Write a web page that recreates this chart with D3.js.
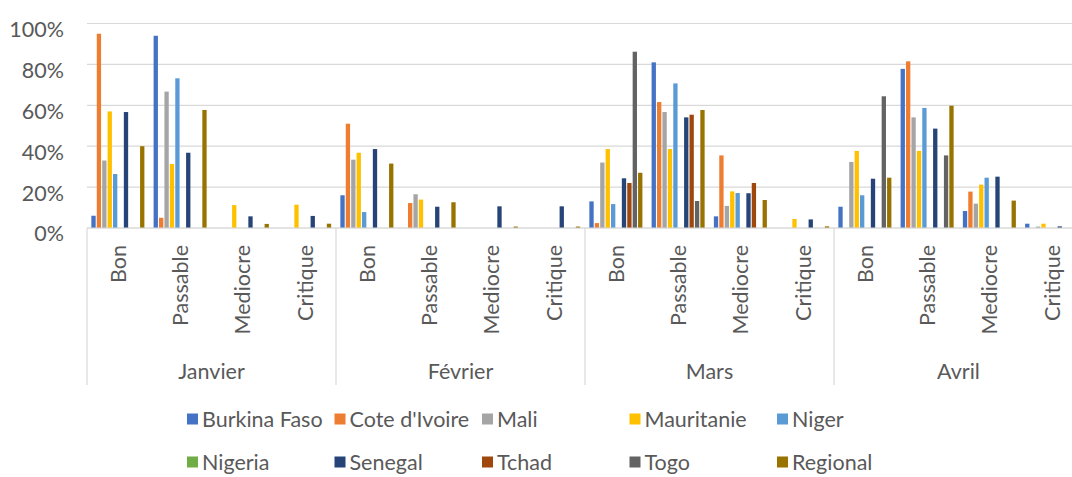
<!DOCTYPE html>
<html>
<head>
<meta charset="utf-8">
<script src="https://cdn.jsdelivr.net/npm/d3@7"></script>
<style>
  html, body { margin: 0; padding: 0; background: #fff; }
  svg { display: block; }
  text { font-family: Lato, "Open Sans", sans-serif; fill: #595959; }
</style>
</head>
<body>
<svg id="chart" width="1072" height="477"></svg>
<script>
const months = ["Janvier", "Février", "Mars", "Avril"];
const levels = ["Bon", "Passable", "Mediocre", "Critique"];
const seriesNames = ["Burkina Faso", "Cote d'Ivoire", "Mali", "Mauritanie", "Niger",
                     "Nigeria", "Senegal", "Tchad", "Togo", "Regional"];
const seriesColors = ["#4472C4", "#ED7D31", "#A5A5A5", "#FFC000", "#5B9BD5",
                      "#70AD47", "#264478", "#9E480E", "#636363", "#997300"];
const yTicks = [0, 20, 40, 60, 80, 100];

// values in %, order: Janvier(Bon,Passable,Mediocre,Critique), Février(...), Mars(...), Avril(...)
const burkinaFaso = [6, 94, 0, 0, 16, 0, 0, 0, 13, 81, 5.7, 0, 10.4, 77.8, 8.3, 2.1];
const coteDIvoire = [95, 5, 0, 0, 51, 12.2, 0, 0, 2.4, 61.6, 35.5, 0, 0, 81.5, 17.8, 0];
const mali        = [33, 66.7, 0, 0, 33.4, 16.5, 0, 0, 32, 56.7, 10.8, 0, 32.3, 54.1, 11.9, 0.7];
const mauritanie  = [57, 31.3, 11.2, 11.4, 36.8, 13.9, 0, 0, 38.6, 38.6, 17.9, 4.4, 37.7, 37.7, 21.2, 2.1];
const niger       = [26.4, 73.2, 0, 0, 7.8, 0, 0, 0, 11.7, 70.7, 17.1, 0, 16, 58.7, 24.6, 0];
const nigeria     = [0, 0, 0, 0, 0, 0, 0, 0, 0, 0, 0, 0, 0, 0, 0, 0];
const senegal     = [56.7, 36.8, 5.7, 5.9, 38.6, 10.4, 10.6, 10.6, 24.3, 54.1, 17, 4.2, 24.1, 48.6, 25.1, 0.8];
const tchad       = [0, 0, 0, 0, 0, 0, 0, 0, 22, 55.4, 22, 0, 0, 0, 0, 0];
const togo        = [0, 0, 0, 0, 0, 0, 0, 0, 86.2, 13.2, 0, 0, 64.4, 35.5, 0, 0];
const regional    = [40, 57.7, 2, 2.1, 31.5, 12.6, 0.7, 0.7, 27, 57.7, 13.7, 0.8, 24.6, 59.8, 13.4, 0];

const seriesValues = [burkinaFaso, coteDIvoire, mali, mauritanie, niger,
                      nigeria, senegal, tchad, togo, regional];

(function () {
const svg = d3.select("#chart");
const plotLeft = 87, plotRight = 1083, plotTop = 23.5, plotBottom = 228;
const fs = 21.5;

const categories = [];
months.forEach(m => levels.forEach(l => categories.push(m + "|" + l)));

const x0 = d3.scaleBand().domain(categories).range([plotLeft, plotRight]).paddingInner(0).paddingOuter(0);
const x1 = d3.scaleBand().domain(seriesNames).range([0, x0.bandwidth()]).paddingInner(0).paddingOuter(0.75);
const y = d3.scaleLinear().domain([0, 100]).range([plotBottom, plotTop]);
const xm = d3.scaleBand().domain(months).range([plotLeft, plotRight]);

// gridlines
svg.append("g").selectAll("line").data(yTicks).join("line")
  .attr("x1", plotLeft).attr("x2", plotRight)
  .attr("y1", d => y(d)).attr("y2", d => y(d))
  .attr("stroke", "#d9d9d9").attr("stroke-width", 1.2);

// y labels
const yAxis = d3.axisLeft(y).tickValues(yTicks).tickFormat(d => d + "%").tickSize(0).tickPadding(0);
const yg = svg.append("g").attr("transform", "translate(64,0)").call(yAxis);
yg.select(".domain").remove();
yg.selectAll("text").attr("font-size", fs).attr("dy", "0.6em")
  .style("font-family", "Lato, sans-serif").attr("fill", "#595959");

// bars
const bars = [];
seriesNames.forEach((s, si) => {
  seriesValues[si].forEach((v, ci) => bars.push({ s, si, cat: categories[ci], v }));
});
svg.append("g").selectAll("rect").data(bars.filter(d => d.v > 0)).join("rect")
  .attr("x", d => x0(d.cat) + x1(d.s) + 0.3)
  .attr("width", x1.bandwidth() - 1.1)
  .attr("y", d => y(d.v))
  .attr("height", d => y(0) - y(d.v))
  .attr("fill", d => seriesColors[d.si]);

// category axis line
svg.append("line").attr("x1", plotLeft).attr("x2", plotRight).attr("y1", plotBottom).attr("y2", plotBottom)
  .attr("stroke", "#d9d9d9").attr("stroke-width", 1.2);

// month separators
svg.append("g").selectAll("line").data(months).join("line")
  .attr("x1", d => xm(d)).attr("x2", d => xm(d))
  .attr("y1", plotBottom).attr("y2", 385)
  .attr("stroke", "#d9d9d9").attr("stroke-width", 1.2);

// level labels (rotated)
svg.append("g").selectAll("text").data(categories).join("text")
  .attr("transform", d => `translate(${x0(d) + x0.bandwidth() / 2},245) rotate(-90)`)
  .attr("text-anchor", "end").attr("dy", "0.36em")
  .attr("font-size", fs)
  .text(d => d.split("|")[1]);

// month labels
svg.append("g").selectAll("text").data(months).join("text")
  .attr("x", d => xm(d) + xm.bandwidth() / 2).attr("y", 371)
  .attr("text-anchor", "middle").attr("dy", "0.36em")
  .attr("font-size", fs)
  .text(d => d);

// legend
const legend = svg.append("g").selectAll("g").data(seriesNames).join("g")
  .attr("transform", (d, i) => `translate(${202 + (i % 5) * 147.5},${i < 5 ? 419 : 462})`);
legend.append("rect").attr("x", -15).attr("y", -5.5).attr("width", 11).attr("height", 11)
  .attr("fill", (d, i) => seriesColors[i]);
legend.append("text").attr("x", 0).attr("dy", "0.36em").attr("font-size", fs).text(d => d);
})();
</script>
</body>
</html>
